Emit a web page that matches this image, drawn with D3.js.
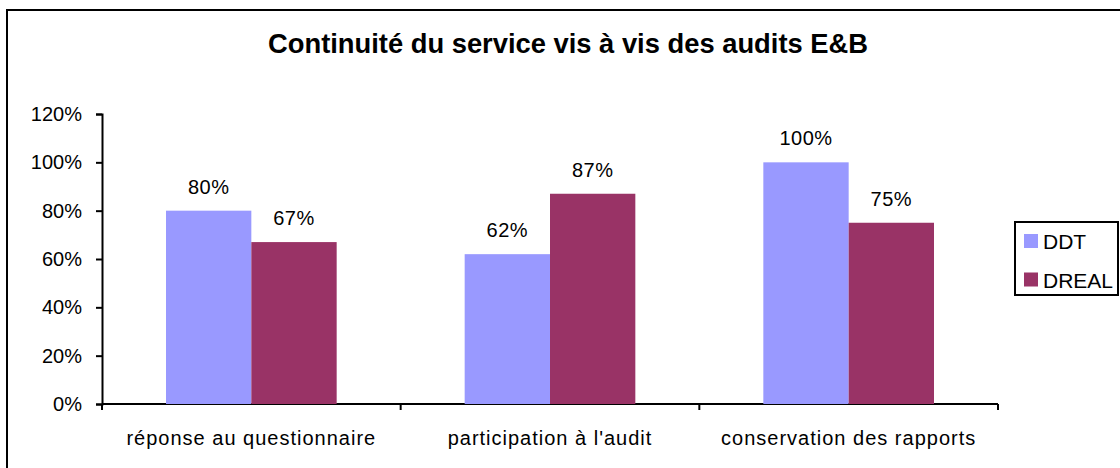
<!DOCTYPE html>
<html>
<head>
<meta charset="utf-8">
<script src="https://cdn.jsdelivr.net/npm/d3@7"></script>
<style>
  body { margin: 0; background: #fff; }
  text { font-family: "Liberation Sans", Arial, sans-serif; fill: #000; }
</style>
</head>
<body>
<svg id="chart"></svg>
<script>
// chart data
var title = "Continuité du service vis à vis des audits E&B";
var categories = ["réponse au questionnaire", "participation à l'audit", "conservation des rapports"];
var seriesNames = ["DDT", "DREAL"];
var ddtValues = [0.80, 0.62, 1.00];
var drealValues = [0.67, 0.87, 0.75];
var yTicks = [0, 0.2, 0.4, 0.6, 0.8, 1.0, 1.2];
var colors = ["#9999ff", "#993366"];

var svgWidth = 1120, svgHeight = 468;
var margin = { top: 114, left: 102 };
var width = 896, height = 290;

var svg = d3.select("#chart")
            .attr("width", svgWidth)
            .attr("height", svgHeight);

// outer frame (right and bottom edges fall outside the picture)
svg.append("rect")
   .attr("x", 7).attr("y", 10)
   .attr("width", 1200).attr("height", 600)
   .attr("fill", "none")
   .attr("stroke", "#000")
   .attr("stroke-width", 2);

svg.append("text")
   .attr("x", 568)
   .attr("y", 53)
   .attr("text-anchor", "middle")
   .attr("font-size", 28)
   .attr("font-weight", "bold")
   .attr("textLength", 600)
   .attr("lengthAdjust", "spacingAndGlyphs")
   .text(title);

var g = svg.append("g")
           .attr("transform", "translate(" + margin.left + "," + margin.top + ")");

var x0 = d3.scaleBand()
           .domain(categories)
           .range([0, width])
           .paddingInner(0)
           .paddingOuter(0);

var x1 = d3.scaleBand()
           .domain(seriesNames)
           .range([64, x0.bandwidth() - 64]);

var y = d3.scaleLinear()
          .domain([0, 1.2])
          .range([height, 0]);

var format = d3.format(".0%");

// y axis
var yAxis = g.append("g")
             .call(d3.axisLeft(y).tickValues(yTicks).tickFormat(format).tickSize(6).tickPadding(14));
yAxis.select(".domain").attr("stroke-width", 2);
yAxis.selectAll(".tick line").attr("stroke-width", 2);
yAxis.selectAll(".tick text").attr("font-size", 20).attr("fill", "#000")
     .attr("font-family", "Liberation Sans, Arial, sans-serif");

// x axis, ticks at category boundaries
var xg = g.append("g").attr("transform", "translate(0," + height + ")");
xg.append("line")
  .attr("x1", 0).attr("x2", width)
  .attr("stroke", "#000").attr("stroke-width", 2);
xg.selectAll(".bound")
  .data(categories.concat([null]))
  .enter().append("line")
  .attr("x1", function(d, i) { return i * x0.step(); })
  .attr("x2", function(d, i) { return i * x0.step(); })
  .attr("y1", 0).attr("y2", 6)
  .attr("stroke", "#000").attr("stroke-width", 2);
xg.selectAll(".cat")
  .data(categories)
  .enter().append("text")
  .attr("x", function(d) { return x0(d) + x0.bandwidth() / 2; })
  .attr("y", 41)
  .attr("text-anchor", "middle")
  .attr("font-size", 20)
  .attr("letter-spacing", 1)
  .text(function(d) { return d; });

// bars
var rows = categories.map(function(c, i) {
    return { cat: c, values: [ddtValues[i], drealValues[i]] };
});

var groups = g.selectAll(".grp")
              .data(rows)
              .enter().append("g")
              .attr("transform", function(d) { return "translate(" + x0(d.cat) + ",0)"; });

var cells = groups.selectAll(".bar")
                  .data(function(d) { return d.values.map(function(v, j) { return { s: seriesNames[j], v: v, j: j }; }); })
                  .enter();

cells.append("rect")
     .attr("x", function(d) { return x1(d.s); })
     .attr("y", function(d) { return y(d.v); })
     .attr("width", x1.bandwidth())
     .attr("height", function(d) { return height - y(d.v); })
     .attr("fill", function(d) { return colors[d.j]; });

cells.append("text")
     .attr("x", function(d) { return x1(d.s) + x1.bandwidth() / 2; })
     .attr("y", function(d) { return y(d.v) - 17; })
     .attr("text-anchor", "middle")
     .attr("font-size", 20)
     .attr("letter-spacing", 0.5)
     .text(function(d) { return format(d.v); });

// legend
var legend = svg.append("g").attr("transform", "translate(1015,222)");
legend.append("rect")
      .attr("width", 103).attr("height", 73)
      .attr("fill", "#fff")
      .attr("stroke", "#000").attr("stroke-width", 2);
var items = legend.selectAll(".item")
                  .data(seriesNames)
                  .enter().append("g")
                  .attr("transform", function(d, i) { return "translate(9," + (12 + i * 38.5) + ")"; });
items.append("rect")
     .attr("width", 14).attr("height", 14)
     .attr("fill", function(d, i) { return colors[i]; });
items.append("text")
     .attr("x", 19).attr("y", 15)
     .attr("font-size", 21)
     .text(function(d) { return d; });
</script>
</body>
</html>
